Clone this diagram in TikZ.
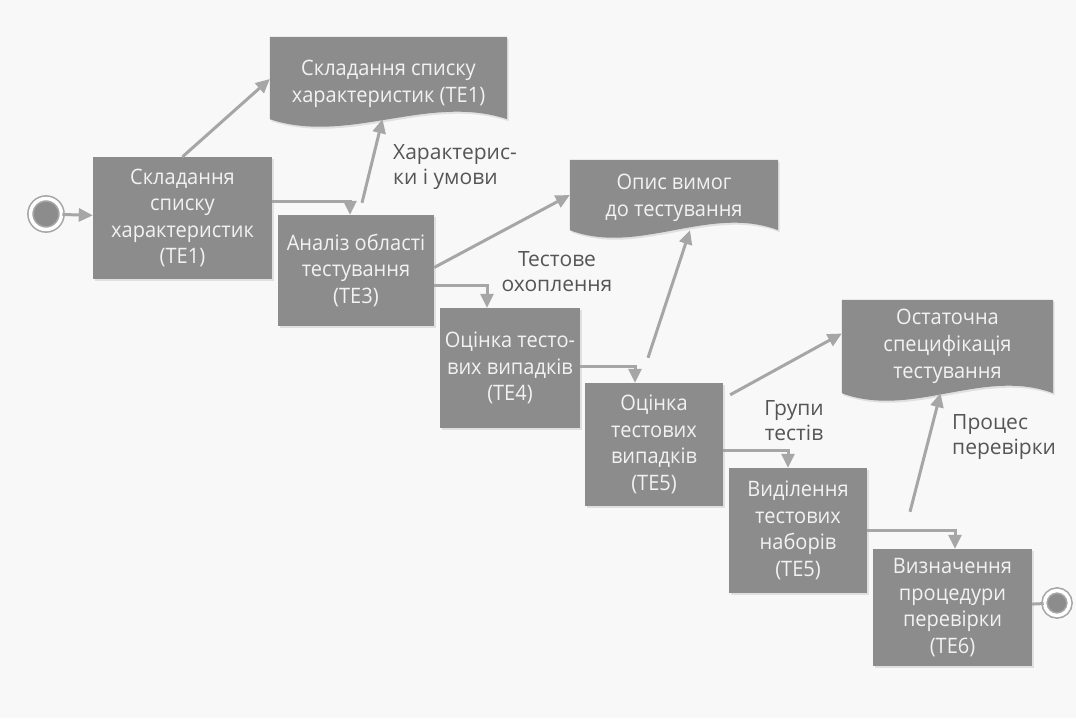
\documentclass[tikz,border=0pt]{standalone}
\usepackage{fontspec}
\setmainfont{Open Sans}
\newfontfamily\boxfont{Open Sans}[FakeStretch=0.94]
\usetikzlibrary{arrows.meta, positioning, calc, backgrounds, shadows}
\definecolor{boxgray}{RGB}{140,140,140}
\definecolor{linegray}{RGB}{166,166,166}
\definecolor{labelgray}{RGB}{85,85,85}
\definecolor{boxtext}{RGB}{242,242,242}
\definecolor{paper}{RGB}{248,248,248}

% document shape: filled box with wavy bottom, drawn behind node text
% #2 = how far the top edge reaches above the node
\newcommand{\docwave}[2]{%
  \begin{pgfonlayer}{background}
    \fill[boxgray, drop shadow={opacity=0.2, shadow xshift=1.5pt, shadow yshift=-2pt}]
      ([yshift=#2pt]#1.north west) -- ([yshift=#2pt]#1.north east) -- (#1.south east)
      .. controls ($(#1.south west)!0.67!(#1.south east)+(0,-26)$)
      and ($(#1.south west)!0.33!(#1.south east)+(0,26)$) .. (#1.south west) -- cycle;
  \end{pgfonlayer}}

\begin{document}
\begin{tikzpicture}[x=1pt, y=-1pt,
    task/.style={rectangle, fill=boxgray, text=boxtext, align=center, inner sep=0pt,
      font=\boxfont\fontsize{21.3}{26.5}\selectfont,
      drop shadow={opacity=0.2, shadow xshift=1.5pt, shadow yshift=-2pt}},
    docbox/.style={rectangle, text=boxtext, align=center, inner sep=0pt,
      font=\boxfont\fontsize{21.3}{27}\selectfont},
    note/.style={text=labelgray, align=center, inner sep=0pt,
      font=\fontsize{21}{25}\selectfont},
    flow/.style={draw=linegray, line width=3pt, -{Triangle[length=14pt,width=13pt]}},
    line/.style={draw=linegray, line width=3pt},
    endpoint/.style={circle, draw=linegray, double=white, double distance=3.5pt,
      line width=1.6pt, fill=boxgray, inner sep=0pt}]
  \begin{pgfonlayer}{background}
    \fill[paper] (0,0) rectangle (1076,718);
  \end{pgfonlayer}
  \useasboundingbox (0,0) rectangle (1076,718);

  % start and end
  \node[endpoint, minimum size=31pt] (start) at (46,214) {};
  \node[endpoint, minimum size=25pt] (stop) at (1057,603) {};

  % process steps
  \node[task, minimum width=179pt, minimum height=122pt] (b1) at (182.5,218) {Складання\\списку\\характеристик\\(TE1)};
  \node[task, minimum width=156pt, minimum height=111pt] (b2) at (356,270.5) {Аналіз області\\тестування\\(TE3)};
  \node[task, minimum width=140pt, minimum height=120pt] (b3) at (510,368) {Оцінка тесто-\\вих випадків\\(TE4)};
  \node[task, minimum width=138pt, minimum height=123pt] (b4) at (654,444.5) {Оцінка\\тестових\\випадків\\(TE5)};
  \node[task, minimum width=138pt, minimum height=125pt] (b5) at (798,530.5) {Виділення\\тестових\\наборів\\(TE5)};
  \node[task, minimum width=159pt, minimum height=117pt] (b6) at (952.5,607.5) {Визначення\\процедури\\перевірки\\(TE6)};

  % documents
  \node[docbox, minimum width=237pt, minimum height=70pt] (d1) at (388.5,84) {Складання списку\\характеристик (TE1)};
  \docwave{d1}{12}
  \node[docbox, minimum width=208pt, minimum height=64pt] (d2) at (674,198) {Опис вимог\\до тестування};
  \docwave{d2}{6}
  \node[docbox, minimum width=211pt, minimum height=93pt] (d3) at (947.5,346.5) {Остаточна\\специфікація\\тестування};
  \docwave{d3}{0}

  % labels
  \node[note, anchor=west, align=left] (lbl1) at (393,167) {Характерис-\\ки і умови};
  \node[note] (lbl2) at (557,272) {Тестове\\охоплення};
  \node[note] (lbl3) at (794,421) {Групи\\тестів};
  \node[note, anchor=west, align=left] (lbl4) at (952,437) {Процес\\перевірки};

  % connectors
  \draw[flow] (start) -- (b1);
  \draw[flow] (b1.north) -- ([yshift=5pt]d1.west);
  \draw[flow] ([yshift=17pt]b1.east) -| ([xshift=-6pt]b2.north);
  \draw[flow] ([xshift=6pt,yshift=12pt]b2.north) -- ([xshift=-6pt]d1.south);
  \draw[flow] ([yshift=3pt]b2.east) -- ([yshift=3pt]d2.west);
  \draw[flow] ([yshift=-14.5pt]b2.east) -| ([xshift=-23pt]b3.north);
  \draw[flow] ([xshift=-6pt,yshift=25pt]b4.north) -- ([xshift=16pt]d2.south);
  \draw[flow] ([yshift=2pt]b3.east) -| ([xshift=-19pt]b4.north);
  \draw[flow] ([xshift=7pt,yshift=-12pt]b4.north east) -- ([yshift=13pt]d3.west);
  \draw[flow] ([yshift=-5.5pt]b4.east) -| ([xshift=-10pt]b5.north);
  \draw[flow] ([xshift=-42.5pt,yshift=37pt]b6.north) -- ([xshift=-7pt]d3.south);
  \draw[flow] (b5.east) -| ([xshift=2.5pt]b6.north);
  \draw[line] (b6) -- (stop);
\end{tikzpicture}
\end{document}
